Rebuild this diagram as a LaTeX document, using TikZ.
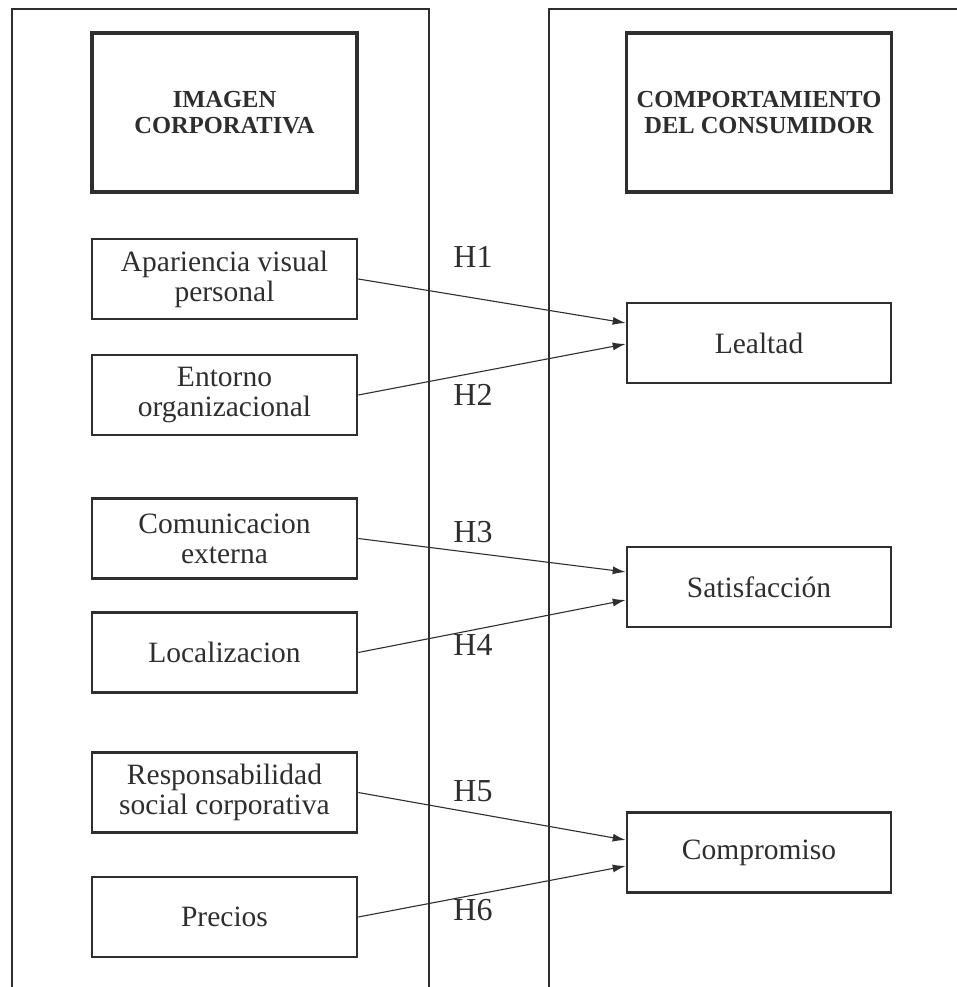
\documentclass[tikz,border=0pt]{standalone}
\usepackage{fontspec}
\setmainfont{Liberation Serif}
\usetikzlibrary{arrows.meta}
\definecolor{ink}{HTML}{2E2E2E}
\begin{document}
\begin{tikzpicture}[x=1pt,y=-1pt,
  box/.style={draw=ink,line width=2.6pt,minimum width=265pt,minimum height=80pt,inner sep=0pt,align=center,font=\fontsize{29.5}{30}\selectfont,text=ink},
  titlebox/.style={draw=ink,line width=3.4pt,minimum width=265pt,minimum height=159pt,inner sep=0pt,align=center,font=\bfseries\fontsize{24.5}{26}\selectfont,text=ink},
  hyp/.style={font=\fontsize{32}{34}\selectfont,text=ink,inner sep=0pt},
  link/.style={draw=ink,line width=1.1pt,-{Latex[length=13pt,width=8pt]}},
  frame/.style={draw=ink,line width=2.8pt}]
\useasboundingbox (0,0) rectangle (957,987);
\begin{scope}
\clip (0,0) rectangle (957,987);
\draw[frame] (12,1000) -- (12,9) -- (429,9) -- (429,1000);
\draw[frame] (549,1000) -- (549,9) -- (970,9);
\end{scope}
% title boxes
\node[titlebox] (ic) at (224.5,112.5) {IMAGEN\\CORPORATIVA};
\node[titlebox] (cc) at (759,112.5) {COMPORTAMIENTO\\DEL CONSUMIDOR};
% left boxes
\node[box] (ap) at (224.5,279) {Apariencia visual\\personal};
\node[box] (en) at (224.5,395) {Entorno\\organizacional};
\node[box] (co) at (224.5,538.5) {Comunicacion\\externa};
\node[box] (lo) at (224.5,652.5) {Localizacion};
\node[box] (rs) at (224.5,792.5) {Responsabilidad\\social corporativa};
\node[box] (pr) at (224.5,917) {Precios};
% right boxes
\node[box,minimum width=264pt] (le) at (759,343) {Lealtad};
\node[box,minimum width=264pt] (sa) at (759,587) {Satisfacción};
\node[box,minimum width=264pt] (cm) at (759,852.5) {Compromiso};
% connectors
\draw[link] (ap.east) -- ([yshift=20pt]le.west);
\draw[link] (en.east) -- ([yshift=-1pt]le.west);
\draw[link] (co.east) -- ([yshift=15pt]sa.west);
\draw[link] (lo.east) -- ([yshift=-13pt]sa.west);
\draw[link] (rs.east) -- ([yshift=12.5pt]cm.west);
\draw[link] (pr.east) -- ([yshift=-13.5pt]cm.west);
% hypothesis labels
\node[hyp] (h1) at (473,257) {H1};
\node[hyp] (h2) at (473,395) {H2};
\node[hyp] (h3) at (473,532) {H3};
\node[hyp] (h4) at (473,645) {H4};
\node[hyp] (h5) at (473,791) {H5};
\node[hyp] (h6) at (473,910) {H6};
\end{tikzpicture}
\end{document}
